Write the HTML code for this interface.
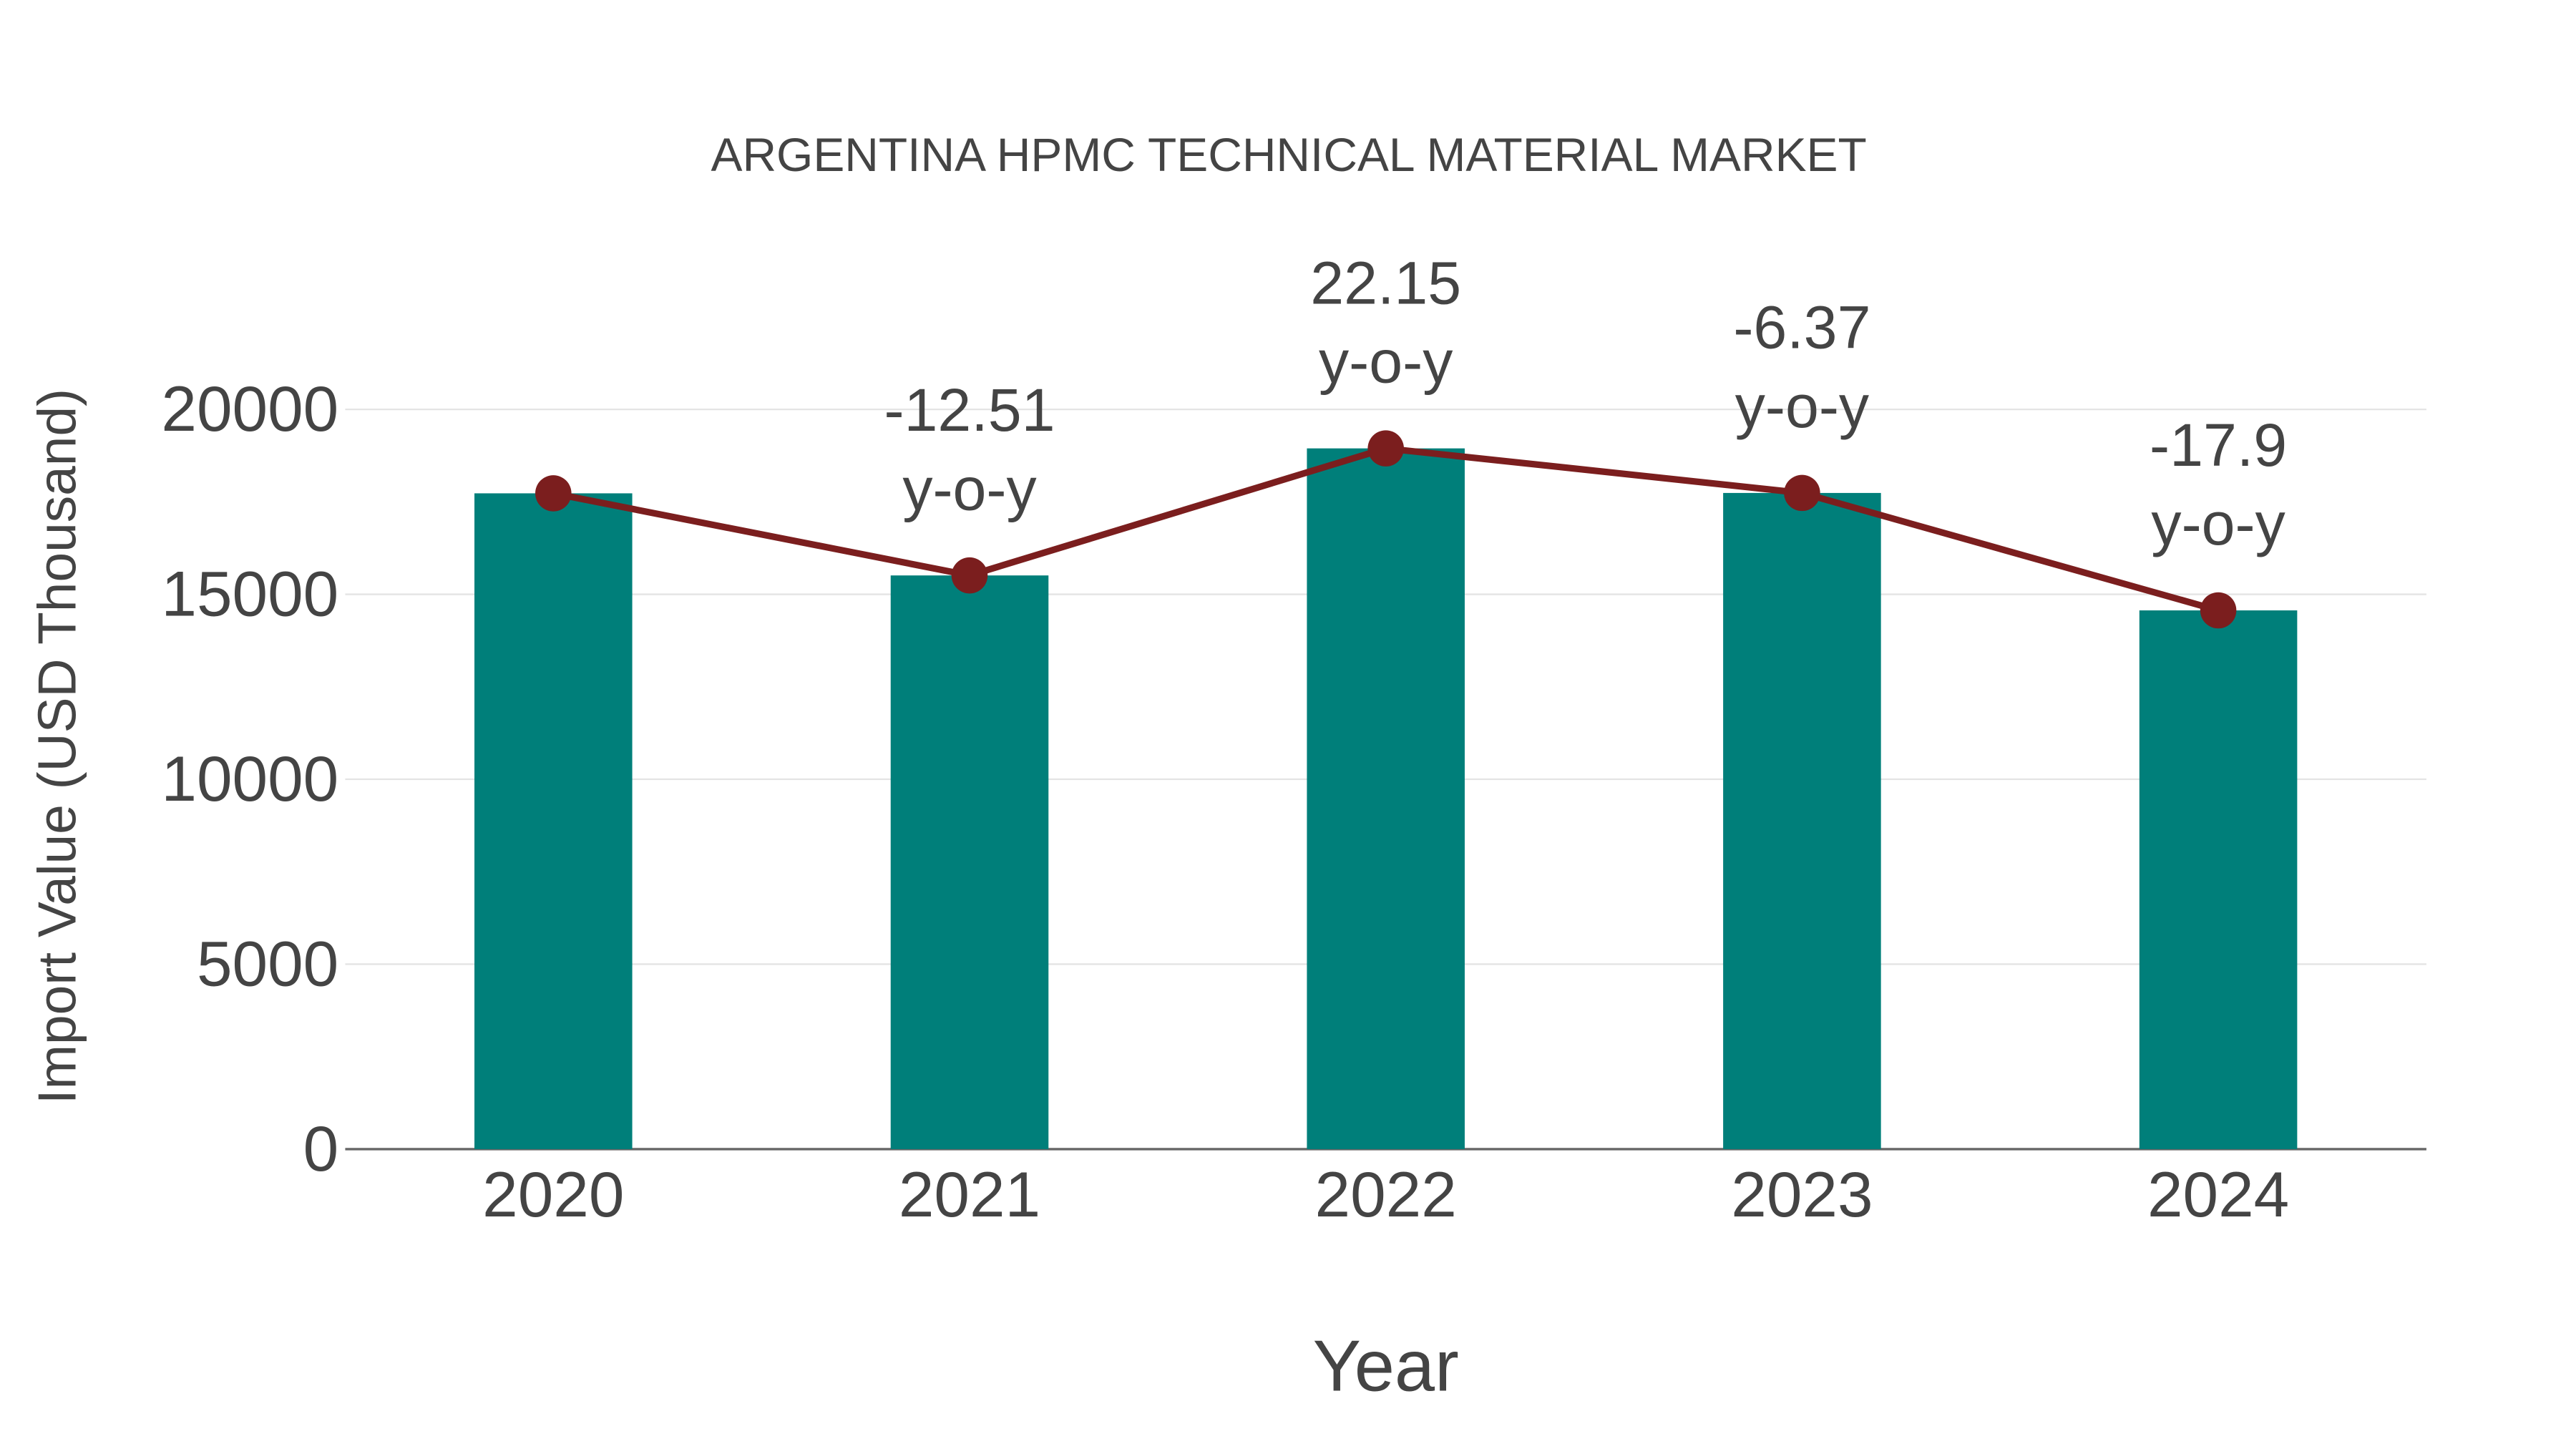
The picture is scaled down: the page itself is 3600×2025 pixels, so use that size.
<!DOCTYPE html>
<html><head><meta charset="utf-8"><style>
html,body{margin:0;padding:0;background:#fff;}
svg{display:block;font-family:"Liberation Sans",Arial,sans-serif;}
</style></head><body>
<svg id="chart" width="3600" height="2025" viewBox="0 0 1567 881.4" xmlns="http://www.w3.org/2000/svg">
<text x="784" y="104" text-anchor="middle" font-size="28.7" fill="#444">ARGENTINA HPMC TECHNICAL MATERIAL MARKET</text>
<g id="grid"></g>
<g id="bars"></g>
<g id="line"></g>
<g id="labels"></g>
<text x="843" y="846" text-anchor="middle" font-size="44" fill="#444">Year</text>
<text transform="translate(46,454) rotate(-90)" text-anchor="middle" font-size="32.6" fill="#444">Import Value (USD Thousand)</text>
</svg>
<script>
const categories = ["2020","2021","2022","2023","2024"];
const values = [17730, 15510, 18945, 17740, 14565];
const yoyLabels = ["", "-12.51", "22.15", "-6.37", "-17.9"];
const yTicks = [0, 5000, 10000, 15000, 20000];

const NS = "http://www.w3.org/2000/svg";
const x0 = 210, x1 = 1476, y0 = 699, yTop = 249, yMaxVal = 20000;
const band = (x1 - x0) / categories.length;
const xc = i => x0 + band * (i + 0.5);
const ys = v => y0 - (v / yMaxVal) * (y0 - yTop);
function mk(tag, attrs, parent){const e=document.createElementNS(NS,tag);for(const k in attrs)e.setAttribute(k,attrs[k]);parent.appendChild(e);return e;}
const grid=document.getElementById('grid'), bars=document.getElementById('bars'), line=document.getElementById('line'), labels=document.getElementById('labels');

yTicks.forEach(t=>{
  if(t>0){const g=mk('line',{x1:x0,x2:x1,y1:ys(t),y2:ys(t),stroke:'#e4e4e4','stroke-width':1},grid);
  
  }
  const tx=mk('text',{x:x0-4,y:ys(t)+13,'text-anchor':'end','font-size':38.8,fill:'#444'},grid);
  tx.textContent=t;
  
  
});
const ax=mk('line',{x1:x0,x2:x1,y1:y0,y2:y0,stroke:'#666','stroke-width':1.5},grid);



const bw=96;
categories.forEach((c,i)=>{
  const r=mk('rect',{x:xc(i)-bw/2,y:ys(values[i]),width:bw,height:y0-ys(values[i]),fill:'#007f7a'},bars);
  
  
  const t=mk('text',{x:xc(i),y:y0+41,'text-anchor':'middle','font-size':38.8,fill:'#444'},labels);
  t.textContent=c;
  
  
});
const pts=values.map((v,i)=>xc(i)+','+ys(v)).join(' ');
const pl=mk('polyline',{points:pts,fill:'none',stroke:'#7b1e1e','stroke-width':4},line);


values.forEach((v,i)=>{
  const p=mk('circle',{cx:xc(i),cy:ys(v),r:11,fill:'#7b1e1e'},line);
  
  
  if(yoyLabels[i]){
    const a=mk('text',{x:xc(i),y:ys(v)-88,'text-anchor':'middle','font-size':36.7,fill:'#444'},labels);
    a.textContent=yoyLabels[i];
    
    
    const b=mk('text',{x:xc(i),y:ys(v)-40,'text-anchor':'middle','font-size':36.7,fill:'#444'},labels);
    b.textContent='y-o-y';
    
    
  }
});
</script>
</body></html>
